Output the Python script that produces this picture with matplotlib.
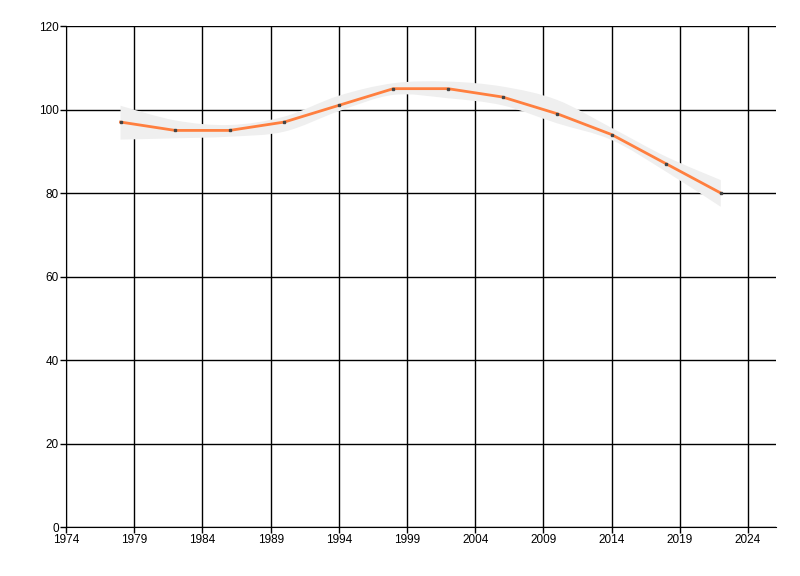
import numpy as np
import matplotlib; matplotlib.use("Agg")
import matplotlib.pyplot as plt
from matplotlib.path import Path
from matplotlib.patches import PathPatch

years = [1978, 1982, 1986, 1990, 1994, 1998, 2002, 2006, 2010, 2014, 2018, 2022]
values = [97, 95, 95, 97, 101, 105, 105, 103, 99, 94, 87, 80]
band_hi = [100.9, 97.4, 96.3, 98.3, 103.3, 106.3, 106.7, 105.5, 102.3, 95.6, 88.7, 83.1]
band_lo = [92.8, 93.1, 93.5, 94.7, 99.6, 103.5, 102.7, 101.0, 96.7, 92.7, 85.1, 76.7]

def bezier_verts(xs, ys):
    # Catmull-Rom through the points, expressed as cubic Bezier segments
    pts = list(zip(xs, ys)); v = []
    for i in range(len(pts) - 1):
        p0 = pts[i-1] if i > 0 else pts[i]; p1 = pts[i]; p2 = pts[i+1]
        p3 = pts[i+2] if i + 2 < len(pts) else pts[i+1]
        c1 = (p1[0] + (p2[0]-p0[0])/6, p1[1] + (p2[1]-p0[1])/6)
        c2 = (p2[0] - (p3[0]-p1[0])/6, p2[1] - (p3[1]-p1[1])/6)
        v += [c1, c2, p2]
    return v

up = bezier_verts(years, band_hi)
lo = bezier_verts(years[::-1], band_lo[::-1])
verts = [(years[0], band_hi[0])] + up + [(years[-1], band_lo[-1])] + lo + [(years[0], band_hi[0])]
codes = [Path.MOVETO] + [Path.CURVE4]*len(up) + [Path.LINETO] + [Path.CURVE4]*len(lo) + [Path.CLOSEPOLY]

plt.rcParams["font.family"] = ["Liberation Sans", "DejaVu Sans"]
fig = plt.figure(figsize=(8, 5.76), dpi=100)
ax = fig.add_axes([0.0825, 0.085, 0.8875, 0.8698])
ax.add_patch(PathPatch(Path(verts, codes), fc="#efefef", ec="none", zorder=3))
ax.plot(years, values, color="#ff7f3f", lw=2, zorder=4)
ax.plot(years, values, ls="none", marker="s", ms=2, color="#444444", zorder=5)

ax.set_xlim(1974, 2026.05); ax.set_ylim(0, 120)
ax.set_xticks(range(1974, 2025, 5)); ax.set_yticks(range(0, 121, 20))
ax.grid(True, color="black", lw=1, zorder=1)
ax.set_axisbelow(True)
for s in ("top", "right"): ax.spines[s].set_visible(False)
for s in ("left", "bottom"): ax.spines[s].set_color("black")
ax.tick_params(length=4, width=1, labelsize=8.5, colors="black", pad=1)
fig.savefig("out.png", dpi=100)
